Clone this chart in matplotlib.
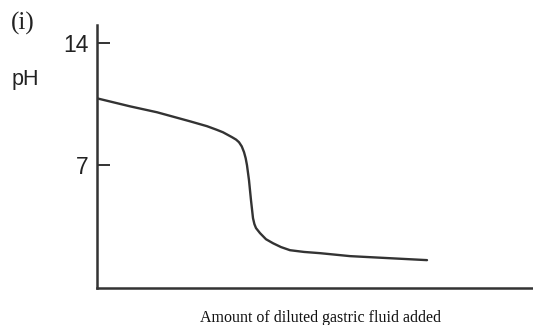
import matplotlib
matplotlib.use("Agg")
import matplotlib.pyplot as plt

# Data (x: amount added, arbitrary units 0-100; y: pH)
amount = [0, 7.57, 13.76, 21.33, 25.23, 27.5, 28.90, 30.96, 31.9, 32.57, 33.2,
          33.72, 34.1, 34.40, 34.86, 35.32, 35.78, 36.1, 36.47, 37.39, 38.76,
          40.37, 42.2, 44.27, 47.5, 51.15, 58.03, 67.20, 75.69]
ph = [10.84, 10.38, 10.04, 9.52, 9.24, 9.03, 8.89, 8.61, 8.47, 8.32, 8.08,
      7.75, 7.40, 7.00, 6.14, 4.99, 3.96, 3.62, 3.39, 3.10, 2.75,
      2.52, 2.30, 2.12, 2.02, 1.95, 1.78, 1.66, 1.55]
yticks = [7, 14]
ytick_labels = ["7", "14"]

col = "#333333"
fig = plt.figure(figsize=(5.33, 3.25), dpi=100)
ax = fig.add_axes([97/533, 1-288/325, (533-97)/533, (288-25)/325])
ax.plot(amount, ph, color=col, lw=1.7, solid_capstyle='round', solid_joinstyle='round')
ax.set_xlim(0, 100)
ax.set_ylim(-0.05, 15.05)
for s in ["top", "right"]:
    ax.spines[s].set_visible(False)
for s in ["left", "bottom"]:
    ax.spines[s].set_color(col)
    ax.spines[s].set_linewidth(1.8)
ax.set_xticks([])
ax.set_yticks(yticks)
ax.set_yticklabels(ytick_labels, fontfamily="Liberation Sans", fontsize=16.5, color="#222222")
ax.tick_params(axis='y', direction='in', length=9, width=1.4, color=col, pad=6)

fig.text(12/533, 1-80/325, "pH", ha="left", va="center",
         fontfamily="Liberation Sans", fontsize=15.5, color="#222222")
fig.text(11/533, 1-23/325, "(i)", ha="left", va="center",
         fontfamily="Liberation Serif", fontsize=18, color="#222222")
fig.text(320/533, 1-318/325, "Amount of diluted gastric fluid added", ha="center", va="center",
         fontfamily="Liberation Serif", fontsize=11.5, color="#111111")
fig.savefig("out.png", dpi=100)
